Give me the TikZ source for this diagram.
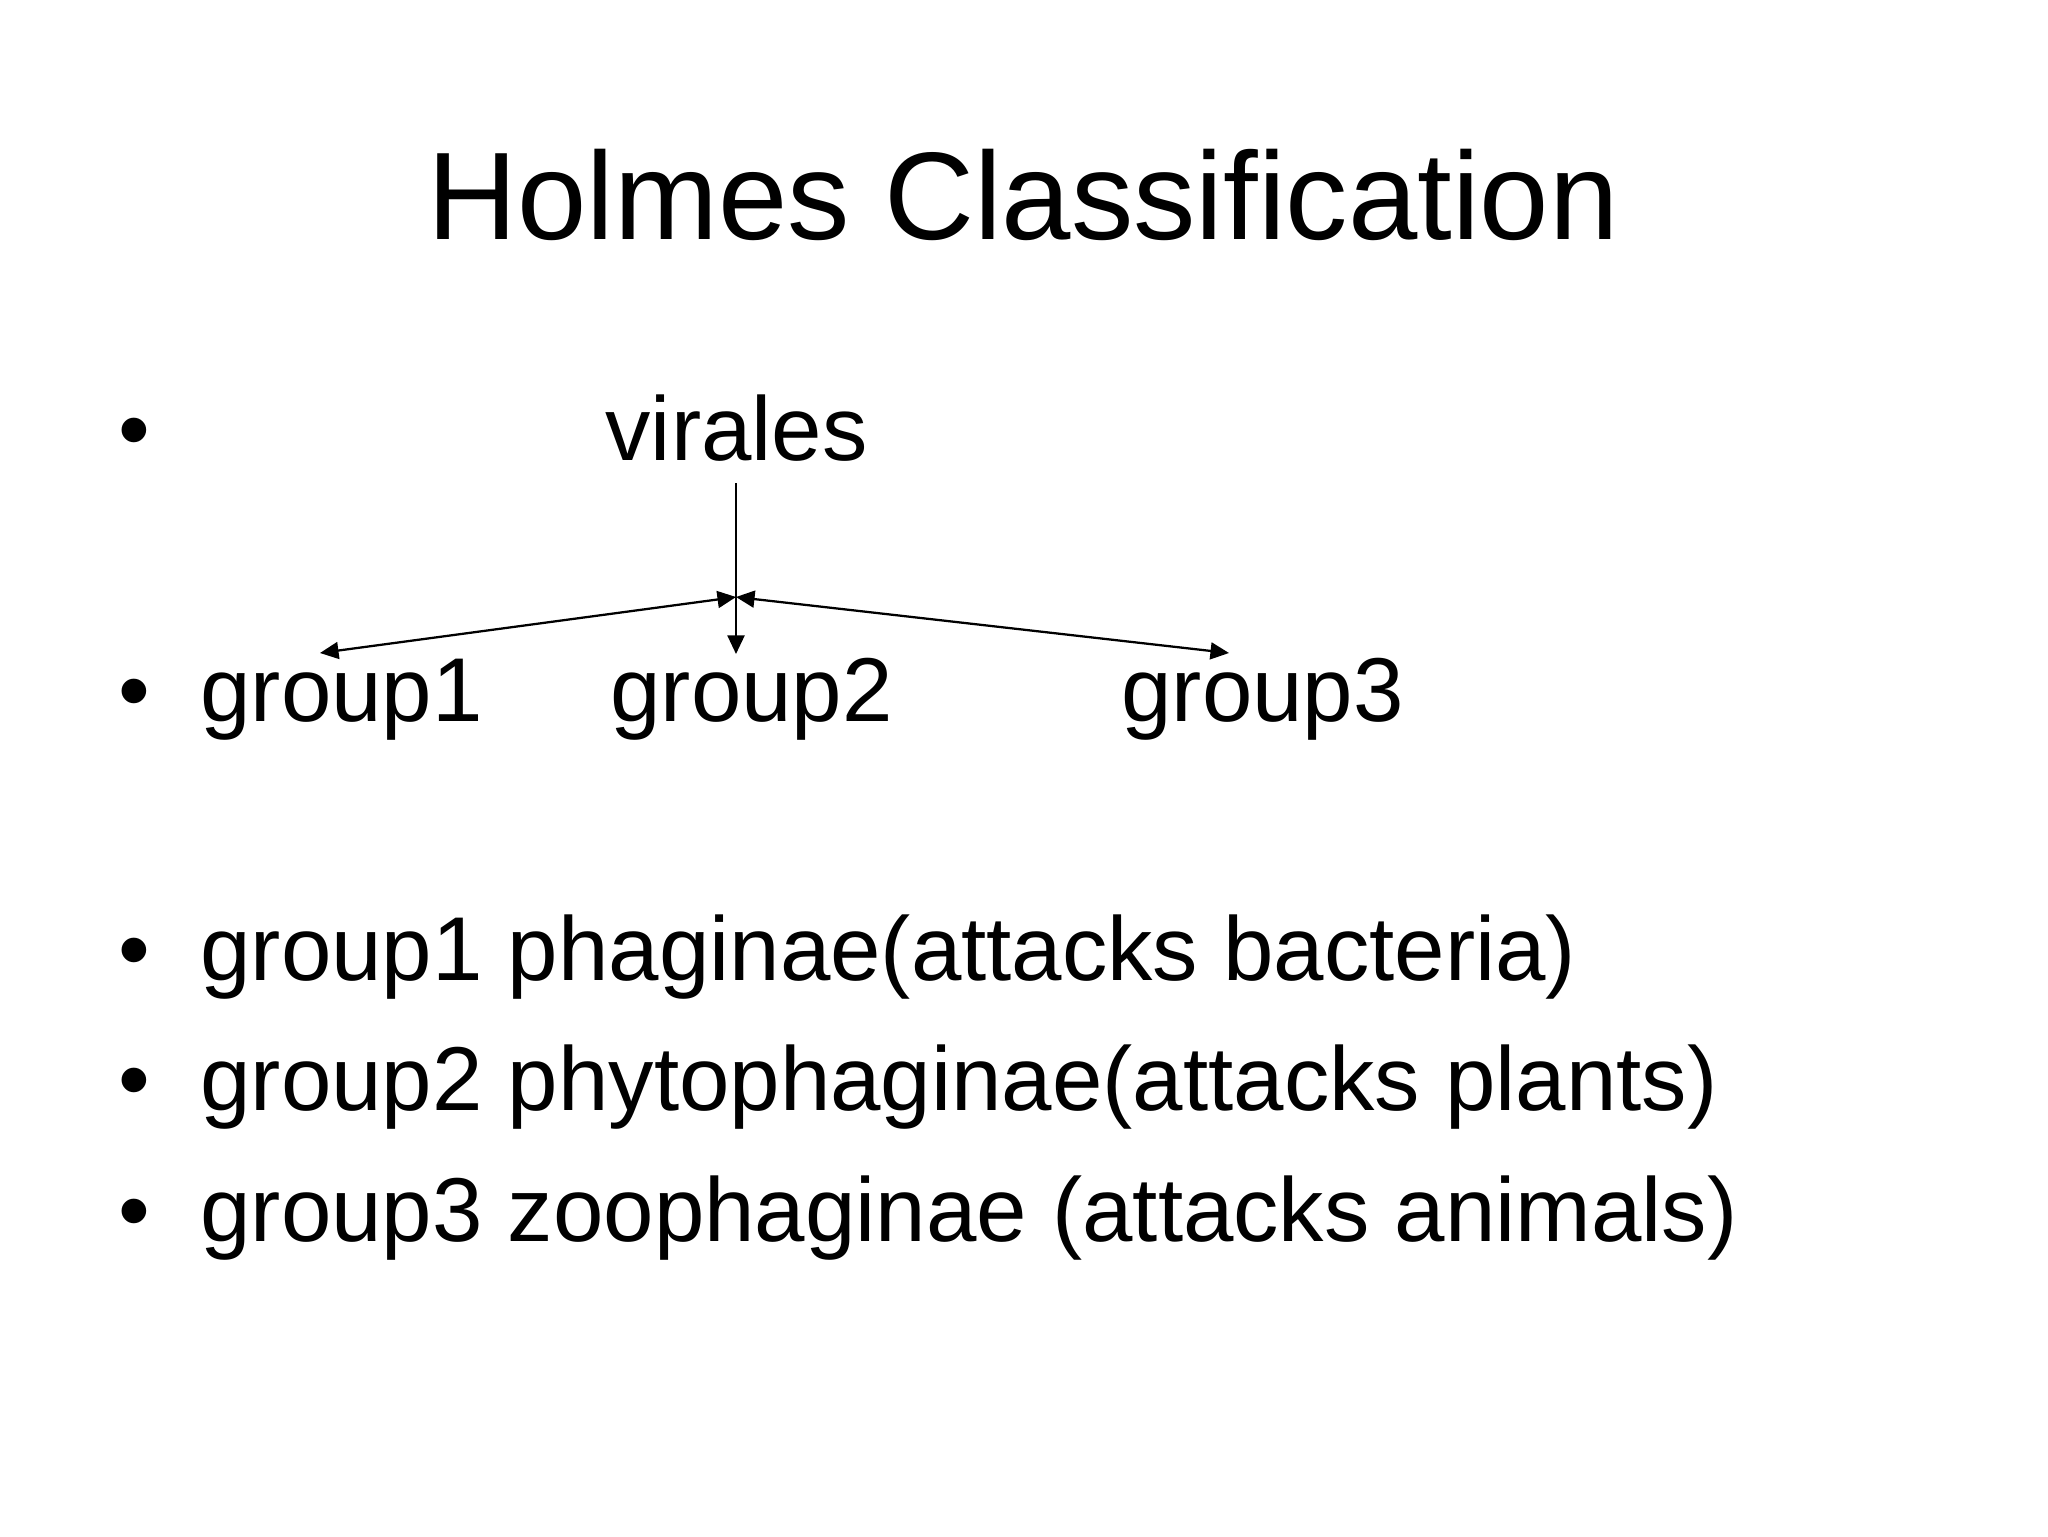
\documentclass[tikz,border=0pt]{standalone}
\usepackage{fontspec}
\setmainfont{Liberation Sans}
\usetikzlibrary{arrows.meta,positioning}

\begin{document}
\begin{tikzpicture}[
x=0.0124023cm,y=-0.0124023cm,
heading/.style={inner sep=0pt,anchor=base,font=\fontsize{44}{53}\selectfont},
item/.style={inner sep=0pt,anchor=base west,font=\fontsize{32}{38}\selectfont},
oneway/.style={-{Triangle[length=2.3mm,width=2.1mm]},line width=0.8pt},
twoway/.style={{Triangle[length=2.3mm,width=2.1mm]}-{Triangle[length=2.3mm,width=2.1mm]},line width=0.8pt}]
% page
\useasboundingbox (0,0) rectangle (2048,1536);

\node[heading] (title) at (1023,239) {Holmes Classification};

% bullets
\foreach \y/\n in {460/b1,721/b2,980/b3,1110/b4,1241/b5}
  \node[item] (\n) at (118,\y) {•};

% tree
\node[item] (virales) at (605,460) {virales};
\node[item] (group1) at (200,721) {group1};
\node[item] (group2) at (610,721) {group2};
\node[item] (group3) at (1121,721) {group3};

\draw
(736,483) coordinate (top)
(736,597) coordinate (split)
(736,654) coordinate (mid)
(320,653) coordinate (left)
(1229,653) coordinate (right);

\draw[oneway] (top) -- (mid);
\draw[twoway] (left) -- (split);
\draw[twoway] (split) -- (right);

% list
\node[item] (line1) at (200,980) {group1 phaginae(attacks bacteria)};
\node[item] (line2) at (200,1110) {group2 phytophaginae(attacks plants)};
\node[item] (line3) at (200,1241) {group3 zoophaginae (attacks animals)};

\end{tikzpicture}
\end{document}
